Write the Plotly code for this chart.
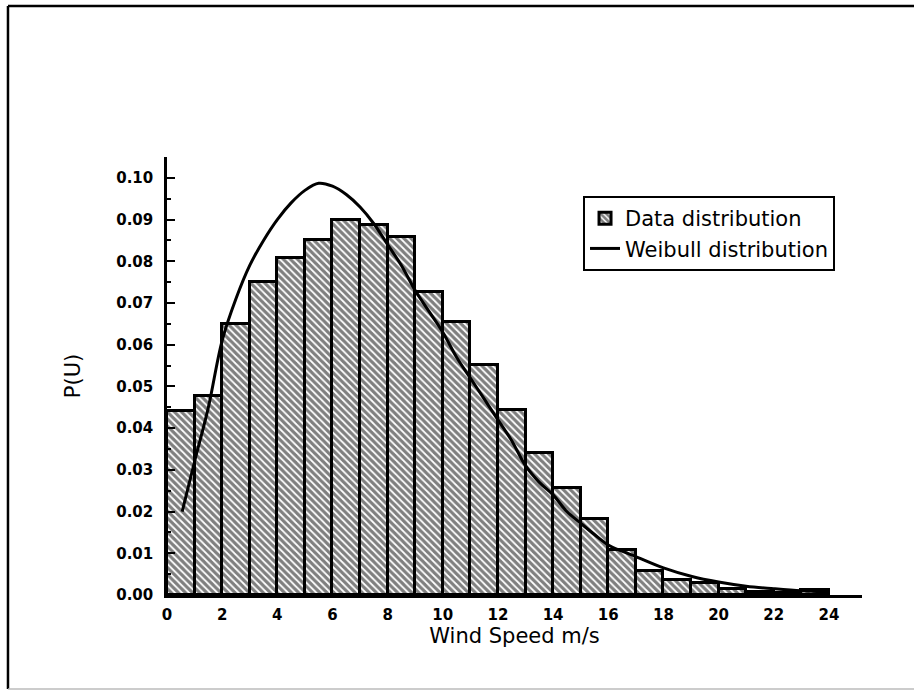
import plotly.graph_objects as go

# Histogram bins (1 m/s wide) and probabilities
bin_centers = [i + 0.5 for i in range(24)]
data_prob = [0.0441, 0.0478, 0.0650, 0.0751, 0.0808, 0.0851, 0.0898, 0.0887,
             0.0859, 0.0727, 0.0655, 0.0552, 0.0444, 0.0340, 0.0257, 0.0182,
             0.0108, 0.0058, 0.0036, 0.0029, 0.0014, 0.0008, 0.0006, 0.0012]

# Weibull curve
weib_x = [0.55, 1.0, 1.5, 2.0, 2.5, 3.0, 3.5, 4.0, 4.5, 5.0, 5.5, 6.0, 6.5, 7.0,
          7.5, 8.0, 8.5, 9.0, 9.5, 10.0, 10.5, 11.0, 11.5, 12.0, 12.5, 13.0,
          13.5, 14.0, 14.5, 15.0, 15.5, 16.0, 16.5, 17.0, 18.0, 19.0, 20.0,
          21.0, 22.0, 23.0, 24.0]
weib_y = [0.020, 0.032, 0.045, 0.061, 0.071, 0.079, 0.085, 0.090, 0.094, 0.097,
          0.0987, 0.098, 0.096, 0.093, 0.089, 0.084, 0.079, 0.073, 0.068, 0.063,
          0.057, 0.052, 0.047, 0.042, 0.037, 0.031, 0.027, 0.024, 0.020, 0.0172,
          0.0145, 0.012, 0.0105, 0.0092, 0.0065, 0.0045, 0.0031, 0.0021, 0.0015,
          0.0010, 0.0007]

x_ticks = list(range(0, 25, 2))
y_ticks = [round(0.01 * i, 2) for i in range(11)]

FONT = "DejaVu Sans"

fig = go.Figure()
fig.add_trace(go.Bar(
    x=bin_centers, y=data_prob, width=1.0,
    name="Data distribution",
    marker=dict(color="white",
                line=dict(color="black", width=3),
                pattern=dict(shape="\\", fgcolor="black", bgcolor="white",
                             size=5, solidity=0.65)),
))
fig.add_trace(go.Scatter(
    x=weib_x, y=weib_y, mode="lines", name="Weibull distribution",
    line=dict(color="black", width=3, shape="spline"),
))

fig.update_layout(
    width=914, height=690,
    margin=dict(l=167, r=52, t=157, b=95),
    paper_bgcolor="white", plot_bgcolor="white",
    font=dict(family=FONT, color="black", size=15),
    showlegend=True,
    legend=dict(x=0.5986, y=0.911, xanchor="left", yanchor="top",
                bordercolor="black", borderwidth=2, bgcolor="white",
                font=dict(size=21, family=FONT), tracegroupgap=0,
                itemwidth=30),
    bargap=0,
)
fig.update_xaxes(
    range=[0, 25.2], tickmode="array", tickvals=x_ticks,
    ticktext=[str(v) for v in x_ticks],
    showgrid=False, zeroline=False, showline=True, linecolor="black",
    linewidth=2.5, ticks="inside", ticklen=0,
    tickfont=dict(size=15, weight="bold"),
    ticklabelstandoff=4,
    title=dict(text="Wind Speed m/s", font=dict(size=21), standoff=6),
)
fig.update_yaxes(
    range=[0, 0.105], tickmode="array", tickvals=y_ticks,
    ticktext=[f"{v:.2f}" for v in y_ticks],
    showgrid=False, zeroline=False, showline=True, linecolor="black",
    linewidth=2.5, ticks="inside", ticklen=8, tickwidth=2, tickcolor="black",
    minor=dict(ticks="inside", ticklen=4, tickwidth=1.5, dtick=0.005,
               tickcolor="black"),
    tickfont=dict(size=15, weight="bold"), ticklabelstandoff=8,
    title=dict(text="P(U)", font=dict(size=21), standoff=30),
)

# Page frame (left, top, and faint bottom edges)
fig.add_shape(type="line", xref="paper", yref="paper",
              x0=-0.2288, x1=-0.2288, y0=-0.2146, y1=1.3447,
              line=dict(color="black", width=2.5))
fig.add_shape(type="line", xref="paper", yref="paper",
              x0=-0.2288, x1=1.075, y0=1.3447, y1=1.3447,
              line=dict(color="black", width=2.5))
fig.add_shape(type="line", xref="paper", yref="paper",
              x0=-0.2288, x1=1.075, y0=-0.2146, y1=-0.2146,
              line=dict(color="#bbbbbb", width=1.5))

fig.write_html("out.html")
